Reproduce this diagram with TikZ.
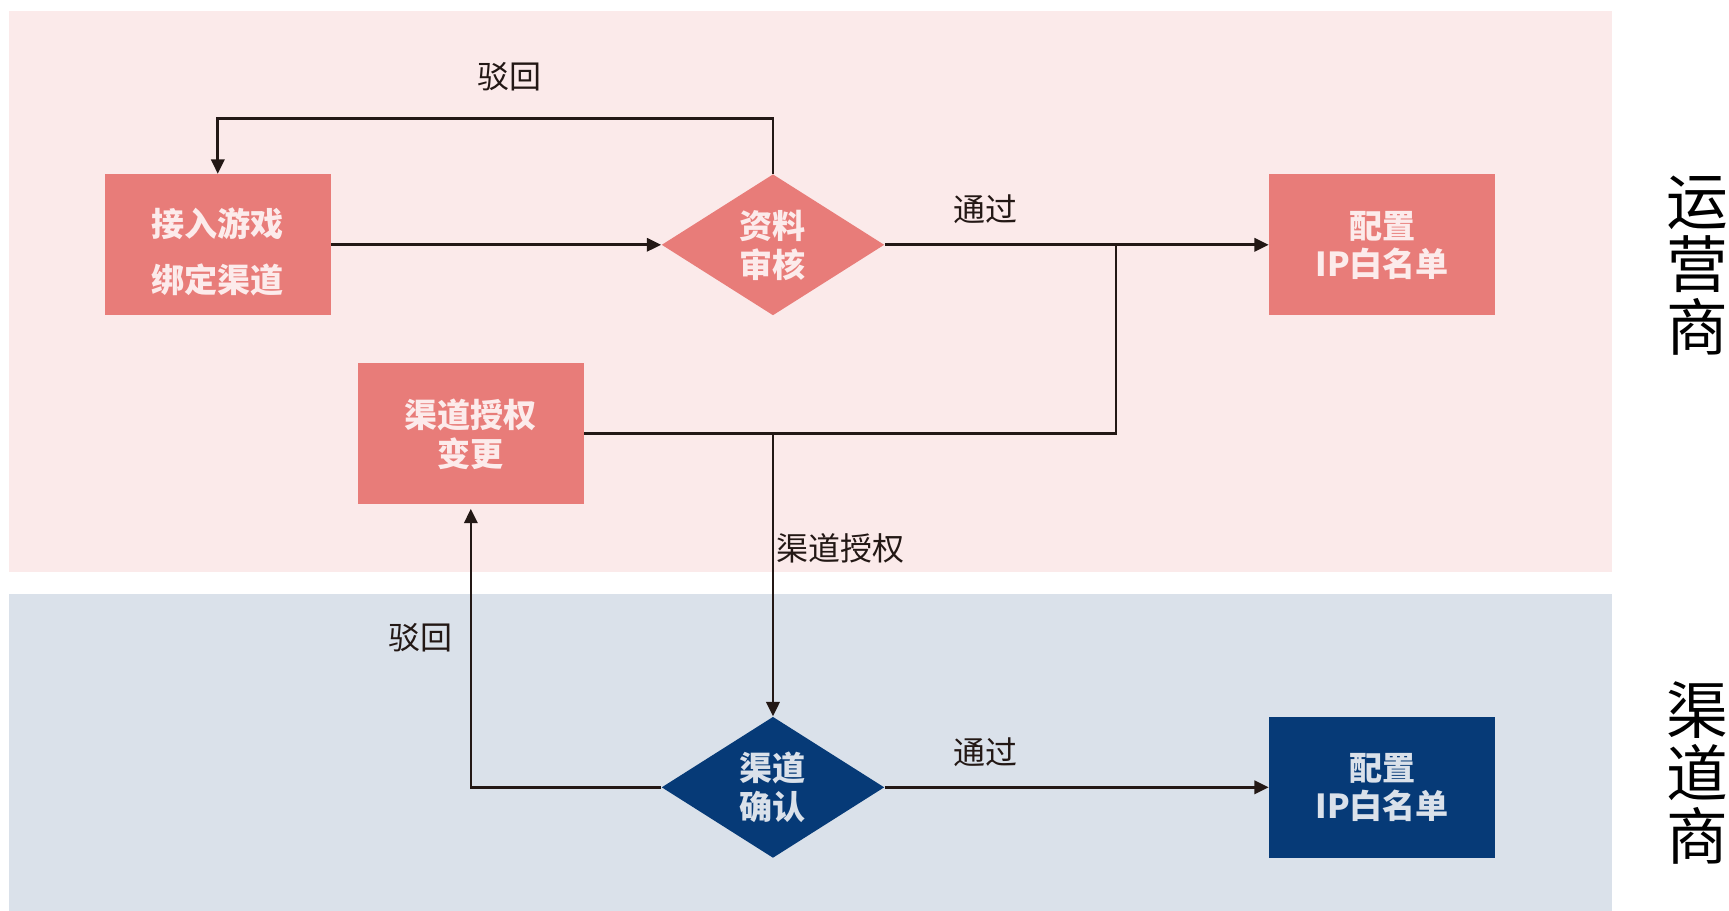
\documentclass[tikz,border=0pt]{standalone}
\usepackage{fontspec}
\newfontfamily\cjk{Noto Sans CJK SC}
\usetikzlibrary{shapes.geometric,arrows.meta}
\definecolor{pinkbg}{HTML}{FBEAEA}
\definecolor{bluebg}{HTML}{DAE1EA}
\definecolor{boxred}{HTML}{E87C79}
\definecolor{boxtxt}{HTML}{FCEBEB}
\definecolor{navy}{HTML}{063A77}
\definecolor{navytxt}{HTML}{DAE1EA}
\definecolor{linec}{HTML}{231815}
\tikzset{
  rbox/.style={rectangle, fill=boxred, minimum width=102.5pt, minimum height=64pt, inner sep=0pt},
  nbox/.style={rectangle, fill=navy, minimum width=102.5pt, minimum height=64pt, inner sep=0pt},
  dia/.style={diamond, minimum width=101pt, minimum height=64pt, inner sep=0pt},
  btxt/.style={text=boxtxt, font=\cjk\bfseries\fontsize{15}{17.5}\selectfont, align=center, inner sep=0pt},
  ntxt/.style={text=navytxt, font=\cjk\bfseries\fontsize{15}{17.5}\selectfont, align=center, inner sep=0pt},
  lbl/.style={text=linec, font=\cjk\fontsize{14.5}{17}\selectfont, inner sep=0pt},
  side/.style={text=black, font=\cjk\fontsize{28}{28.5}\selectfont, align=center, inner sep=0pt},
  conn/.style={draw=linec, line width=1.2pt},
  arr/.style={conn, -{Triangle[length=6.5pt,width=6pt]}}
}
\begin{document}
\begin{tikzpicture}[x=0.5pt,y=-0.5pt]
\useasboundingbox (0,0) rectangle (1568,826);
\fill[white] (0,0) rectangle (1568,826);
\fill[pinkbg] (8,10) rectangle (1462,519);
\fill[bluebg] (8,539) rectangle (1462,826);

% nodes
\node[rbox] (b1) at (197.5,222) {};
\node[btxt, font=\cjk\bfseries\fontsize{15}{25.5}\selectfont] (b1t) at (197.5,228.5) {接入游戏\\绑定渠道};
\node[dia, fill=boxred] (d1) at (701,222) {};
\node[btxt] (d1t) at (701,222.5) {资料\\审核};
\node[rbox] (c1) at (1253.5,222) {};
\node[btxt] (c1t) at (1253.5,222.5) {配置\\IP白名单};
\node[rbox] (b3) at (427,393) {};
\node[btxt] (b3t) at (427,394) {渠道授权\\变更};
\node[dia, fill=navy] (d2) at (701,714) {};
\node[ntxt] (d2t) at (701,714) {渠道\\确认};
\node[nbox] (c2) at (1253.5,714) {};
\node[ntxt] (c2t) at (1253.5,714) {配置\\IP白名单};

% labels
\node[lbl] (l1) at (462,70) {驳回};
\node[lbl] (l2) at (894,190) {通过};
\node[lbl] (l3) at (762,497) {渠道授权};
\node[lbl] (l4) at (381,578) {驳回};
\node[lbl] (l5) at (894,682) {通过};
\node[side] (s1) at (1539,241) {运\\营\\商};
\node[side] (s2) at (1539,701) {渠\\道\\商};

% junctions
\coordinate (j1) at (1012,222);
\coordinate (j2) at (701,393);

% connectors
\draw[arr] (b1.east) -- (d1.west);
\draw[arr] (d1.north) -- ++(0,-50) -| (b1.north);
\draw[arr] (d1.east) -- (c1.west);
\draw[conn] (j1) |- (b3.east);
\draw[arr] (j2) -- (d2.north);
\draw[arr, shorten >=2pt] (d2.west) -| (b3.south);
\draw[arr] (d2.east) -- (c2.west);
\end{tikzpicture}
\end{document}
